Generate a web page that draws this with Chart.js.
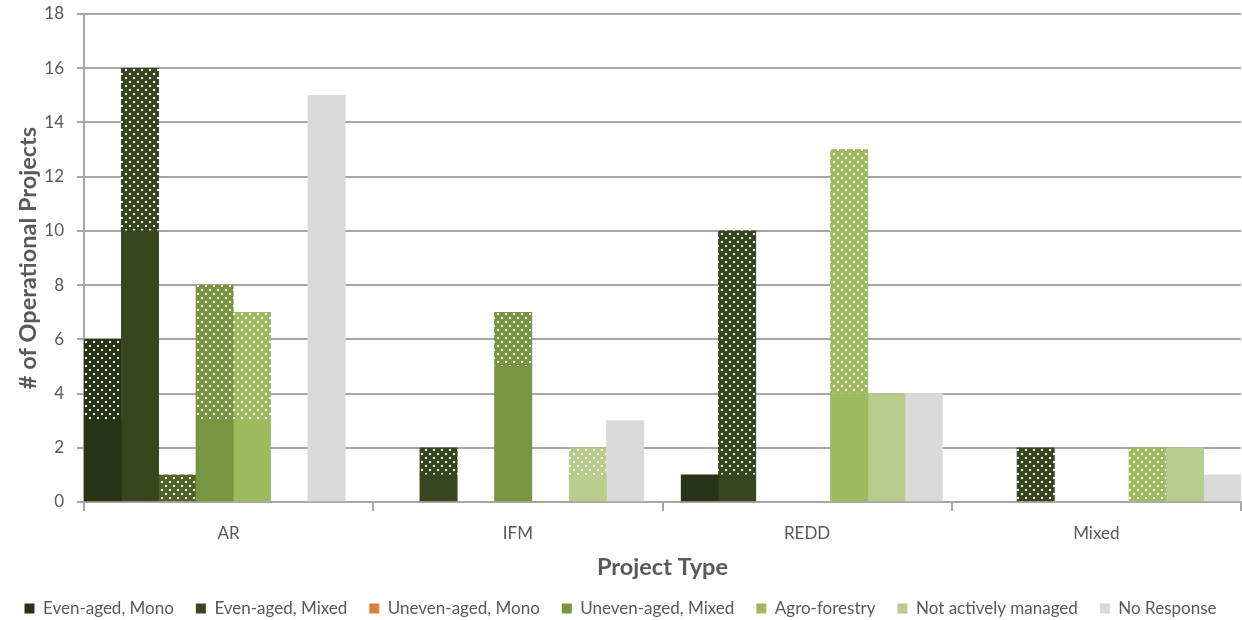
<!DOCTYPE html>
<html>
<head>
<meta charset="utf-8">
<script src="https://cdn.jsdelivr.net/npm/chart.js@4"></script>
<style>
    html, body { margin: 0; padding: 0; background: #fff; }
    #wrap { width: 1242px; height: 620px; }
</style>
</head>
<body>
<div id="wrap"><canvas id="chart" width="1242" height="620"></canvas></div>
<script>
// Categories and series
const categories = ["AR", "IFM", "REDD", "Mixed"];
const seriesNames = ["Even-aged, Mono", "Even-aged, Mixed", "Uneven-aged, Mono", "Uneven-aged, Mixed",
                     "Agro-forestry", "Not actively managed", "No Response"];

// Solid (lower) part of each bar, one value per category
const evenMonoSolid     = [3, 0, 1, 0];
const evenMixedSolid    = [10, 1, 1, 0];
const unevenMonoSolid   = [0, 0, 0, 0];
const unevenMixedSolid  = [3, 5, 0, 0];
const agroSolid         = [3, 0, 4, 0];
const notManagedSolid   = [0, 1, 4, 2];
const noResponseSolid   = [15, 3, 4, 1];

// Dotted (upper) part of each bar
const evenMonoDots      = [3, 0, 0, 0];
const evenMixedDots     = [6, 1, 9, 2];
const unevenMonoDots    = [1, 0, 0, 0];
const unevenMixedDots   = [5, 2, 0, 0];
const agroDots          = [4, 0, 9, 2];
const notManagedDots    = [0, 1, 0, 0];
const noResponseDots    = [0, 0, 0, 0];

// Y axis
const yMin = 0, yMax = 18, yStep = 2;

const solidColors = ["#293417", "#37461f", "#d8813a", "#789540", "#9dbb5e", "#b8cd8b", "#d9d9d9"];
const dotColors   = ["#293417", "#37461f", "#4f6228", "#789540", "#9dbb5e", "#b8cd8b", "#d9d9d9"];

const solidSeries = [evenMonoSolid, evenMixedSolid, unevenMonoSolid, unevenMixedSolid, agroSolid, notManagedSolid, noResponseSolid];
const dotSeries   = [evenMonoDots, evenMixedDots, unevenMonoDots, unevenMixedDots, agroDots, notManagedDots, noResponseDots];

// each category gets 7 slots plus one empty slot as spacer
const slotsPerGroup = seriesNames.length + 1;
const slotCount = categories.length * slotsPerGroup - 1;
const slotLabels = Array.from({ length: slotCount }, () => "");

function toSlots(values, s) {
    const arr = new Array(slotCount).fill(null);
    values.forEach((v, c) => { if (v) arr[c * slotsPerGroup + s] = v; });
    return arr;
}

function dotPattern(color) {
    const c = document.createElement("canvas");
    c.width = 8; c.height = 8;
    const g = c.getContext("2d");
    g.fillStyle = color;
    g.fillRect(0, 0, 8, 8);
    g.fillStyle = "#ffffff";
    g.fillRect(1, 1, 2, 2);
    g.fillRect(5, 5, 2, 2);
    return g.createPattern(c, "repeat");
}

const datasets = [];
seriesNames.forEach((name, s) => {
    datasets.push({
        label: name,
        data: toSlots(solidSeries[s], s),
        backgroundColor: solidColors[s],
        borderWidth: 0
    });
});
seriesNames.forEach((name, s) => {
    datasets.push({
        label: name + " (dotted)",
        data: toSlots(dotSeries[s], s),
        backgroundColor: dotPattern(dotColors[s]),
        borderWidth: 0
    });
});

const fontFamily = "Lato, 'Open Sans', sans-serif";
const textColor = "#595959";
const lineColor = "#a6a6a6";

new Chart(document.getElementById("chart"), {
    type: "bar",
    data: { labels: slotLabels, datasets: datasets },
    options: {
        responsive: false,
        devicePixelRatio: 1,
        animation: false,
        layout: { padding: { top: 0, right: 1, left: 0, bottom: -7 } },
        datasets: { bar: { barPercentage: 1, categoryPercentage: 1 } },
        scales: {
            x: { stacked: true, display: false, offset: true },
            x2: {
                type: "linear",
                position: "bottom",
                min: 0,
                max: categories.length,
                offset: false,
                afterBuildTicks: (scale) => {
                    const t = [];
                    for (let v = 0; v <= categories.length; v += 0.5) t.push({ value: v });
                    scale.ticks = t;
                },
                afterFit: (scale) => {
                    scale.height = 76;
                    scale.paddingLeft = 0;
                    scale.paddingRight = 0;
                },
                grid: {
                    offset: false,
                    drawOnChartArea: false,
                    tickLength: 9,
                    lineWidth: 2,
                    color: (ctx) => (ctx.tick && ctx.tick.value % 1 === 0) ? lineColor : "rgba(0,0,0,0)"
                },
                border: { color: lineColor, width: 2 },
                ticks: {
                    autoSkip: false,
                    maxRotation: 0,
                    padding: 12,
                    color: textColor,
                    font: { family: fontFamily, size: 17 },
                    callback: (v) => (v % 1 === 0.5) ? categories[Math.floor(v)] : ""
                },
                title: {
                    display: true,
                    text: "Project Type",
                    color: textColor,
                    font: { family: fontFamily, size: 23.5, weight: "bold" },
                    padding: { top: 0, bottom: -4 }
                }
            },
            y: {
                stacked: true,
                min: yMin,
                max: yMax,
                afterFit: (scale) => {
                    scale.width = 84;
                    scale.paddingTop = 14;
                },
                ticks: {
                    stepSize: yStep,
                    padding: 13,
                    color: textColor,
                    font: { family: fontFamily, size: 17 }
                },
                grid: { color: lineColor, lineWidth: 2, tickLength: 7 },
                border: { color: lineColor, width: 2 },
                title: {
                    display: true,
                    text: "# of Operational Projects",
                    color: textColor,
                    font: { family: fontFamily, size: 23.5, weight: "bold" },
                    padding: { top: 14, bottom: 0 }
                }
            }
        },
        plugins: {
            legend: {
                position: "bottom",
                labels: {
                    filter: (item) => item.datasetIndex < seriesNames.length,
                    boxWidth: 10,
                    boxHeight: 10,
                    padding: 22,
                    color: textColor,
                    font: { family: fontFamily, size: 17 }
                }
            },
            tooltip: { enabled: false }
        }
    }
});
</script>
</body>
</html>
